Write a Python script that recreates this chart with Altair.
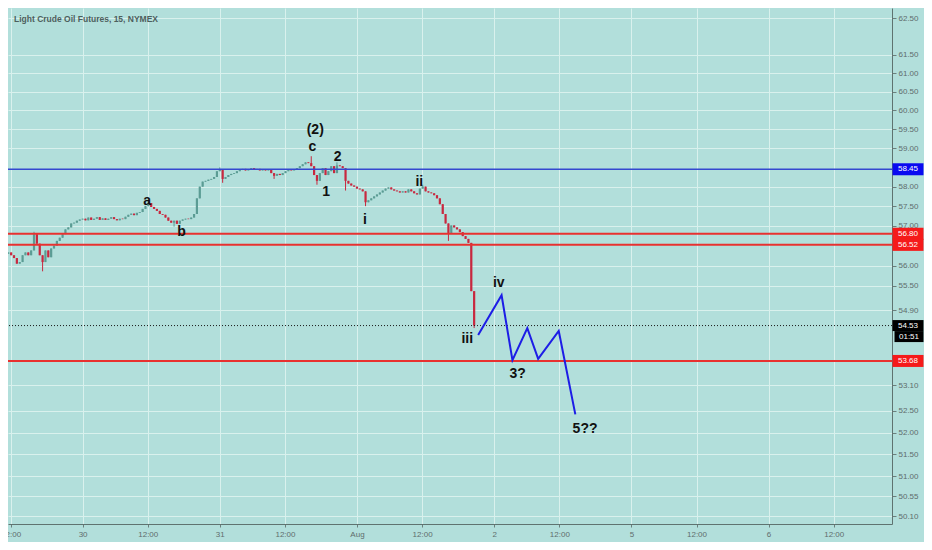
import altair as alt
import pandas as pd

W, H = 884, 516
FONT = "Liberation Sans"

title_text = "Light Crude Oil Futures, 15, NYMEX"

# 30-minute closes (first bar at t = -13 h, step 0.5 h)
bar_start = -13.0
bar_step = 0.5
open0 = 56.30
closes = [
    56.33, 56.26, 56.19, 56.05, 56.09, 56.26, 56.33, 56.26, 56.38, 56.79,
    56.55, 56.26, 56.09, 56.38, 56.21, 56.43, 56.50, 56.62, 56.70, 56.79,
    56.91, 56.96, 57.06, 57.08, 57.13, 57.16, 57.18, 57.14, 57.21, 57.15,
    57.18, 57.22, 57.15, 57.19, 57.15, 57.18, 57.22, 57.17, 57.14, 57.18,
    57.17, 57.23, 57.28, 57.31, 57.27, 57.33, 57.35, 57.43, 57.50, 57.58,
    57.48, 57.43, 57.38, 57.30, 57.28, 57.21, 57.13, 57.08, 57.13, 57.05,
    57.13, 57.16, 57.18, 57.17, 57.21, 57.30, 57.70, 58.00, 58.13, 58.15,
    58.18, 58.20, 58.25, 58.40, 58.45, 58.20, 58.25, 58.30, 58.33, 58.35,
    58.40, 58.43, 58.46, 58.42, 58.45, 58.48, 58.44, 58.46, 58.42, 58.45,
    58.42, 58.45, 58.35, 58.28, 58.33, 58.30, 58.35, 58.40, 58.43, 58.42,
    58.45, 58.48, 58.53, 58.58, 58.63, 58.61, 58.53, 58.30, 58.15, 58.35,
    58.48, 58.30, 58.40, 58.53, 58.35, 58.55, 58.53, 58.48, 58.15, 58.08,
    58.03, 58.00, 57.95, 57.93, 57.88, 57.60, 57.65, 57.70, 57.75, 57.80,
    57.85, 57.90, 57.95, 57.98, 57.93, 57.90, 57.88, 57.85, 57.88, 57.85,
    57.93, 57.88, 57.83, 57.80, 57.95, 58.00, 57.88, 57.85, 57.83, 57.78,
    57.70, 57.55, 57.30, 57.06, 56.82, 57.01, 56.96, 56.91, 56.84, 56.74,
    56.67, 56.57, 55.37, 54.53,
]
# notable wicks
hi_i = [9, 49, 74, 106, 115, 145]
hi_v = [56.85, 57.63, 58.50, 58.79, 58.63, 58.05]
lo_i = [12, 58, 75, 93, 108, 118, 125, 154, 163]
lo_v = [55.86, 56.98, 58.10, 58.20, 58.05, 57.90, 57.50, 56.62, 54.47]

# horizontal levels
level_price = [58.45, 56.80, 56.52, 53.68]
level_color = ["#3548cf", "#e8312f", "#e8312f", "#e8312f"]
badge_color = ["#0a0af0", "#f51a1a", "#f51a1a", "#f51a1a"]
level_width = [1.5, 2, 2, 2]
last_price = 54.53
countdown = "01:51"

# projected wave path (blue)
proj_t = [69.2, 73.3, 75.2, 77.8, 79.7, 83.3, 86.2]
proj_p = [54.30, 55.27, 53.70, 54.47, 53.73, 54.40, 52.42]

# wave labels
lab_text = ["(2)", "c", "2", "1", "a", "b", "i", "ii", "iii", "iv", "3?", "5??"]
lab_t = [40.7, 40.2, 44.6, 42.6, 11.3, 17.3, 49.4, 58.9, 67.3, 72.8, 76.1, 87.9]
lab_p = [59.47, 59.04, 58.78, 57.85, 57.63, 56.84, 57.16, 58.13, 54.21, 55.58, 53.38, 52.08]

# axes
y_ticks = [62.5, 61.5, 61.0, 60.5, 60.0, 59.5, 59.0, 58.0, 57.5, 57.0, 56.0, 55.5,
           54.9, 53.1, 52.5, 52.0, 51.5, 51.0, 50.55, 50.1]
x_ticks = [-12.6, 0, 11.4, 24, 35.4, 48, 59.4, 72, 83.4, 96, 107.4, 120, 131.4]
x_labels = ["12:00", "30", "12:00", "31", "12:00", "Aug", "12:00", "2", "12:00",
            "5", "12:00", "6", "12:00"]

# ---- tables
n = len(closes)
times = [bar_start + bar_step * i for i in range(n)]
opens = [open0] + closes[:-1]
highs = [max(o, c) for o, c in zip(opens, closes)]
lows = [min(o, c) for o, c in zip(opens, closes)]
for i, v in zip(hi_i, hi_v):
    highs[i] = v
for i, v in zip(lo_i, lo_v):
    lows[i] = v
candles = pd.DataFrame({
    "t": times, "open": opens, "close": closes, "high": highs, "low": lows,
    "col": ["#5b9c94" if c >= o else "#c8283f" for o, c in zip(opens, closes)],
})
levels = pd.DataFrame({"price": level_price, "color": level_color, "badge": badge_color,
                       "w": level_width, "lab": [f"{p:.2f}" for p in level_price]})
last_df = pd.DataFrame({"price": [last_price], "lab": [f"{last_price:.2f}"], "cd": [countdown]})
proj = pd.DataFrame({"t": proj_t, "price": proj_p, "k": list(range(len(proj_t)))})
labs = pd.DataFrame({"t": lab_t, "price": lab_p, "txt": lab_text})
title_df = pd.DataFrame({"title": [title_text]})

xs = alt.Scale(domain=[-13.05, 141.6], nice=False, zero=False)
ys = alt.Scale(type="log", domain=[49.93, 62.79], nice=False, zero=False)

label_expr = ("[" + ",".join(f"'{l}'" for l in x_labels) + "][indexof(["
              + ",".join(str(v) for v in x_ticks) + "], datum.value)]")

GRID = "#d9f1ed"
xaxis = alt.Axis(values=x_ticks, labelExpr=label_expr, title=None, grid=True,
                 gridColor=GRID, gridWidth=1, tickSize=3, tickColor="#6b7f7c",
                 domainColor="#5f7370", labelColor="#5f6d6c", labelFont=FONT,
                 labelFontSize=8, labelPadding=3, labelOverlap=False)
yaxis = alt.Axis(orient="right", values=y_ticks, format=".2f", title=None, grid=True,
                 gridColor=GRID, gridWidth=1, tickSize=4, tickColor="#6b7f7c",
                 domainColor="#5f7370", labelColor="#5f6d6c", labelFont=FONT,
                 labelFontSize=8, labelPadding=2, labelOverlap=False)


def X(f):
    return alt.X(f, type="quantitative", scale=xs, axis=xaxis)


def Y(f):
    return alt.Y(f, type="quantitative", scale=ys, axis=yaxis)


wicks = alt.Chart(candles).mark_rule(strokeWidth=1).encode(
    x=X("t"), y=Y("low"), y2="high", color=alt.Color("col:N", scale=None))
bodies = alt.Chart(candles).mark_rule(strokeWidth=2.2).encode(
    x=X("t"), y=Y("open"), y2="close", color=alt.Color("col:N", scale=None))

level_rules = alt.Chart(levels).mark_rule().encode(
    y=Y("price"), color=alt.Color("color:N", scale=None),
    strokeWidth=alt.StrokeWidth("w:Q", scale=None))
last_rule = alt.Chart(last_df).mark_rule(color="#1a1a1a", strokeWidth=1, strokeDash=[1, 2]).encode(
    y=Y("price"))

proj_line = alt.Chart(proj).mark_line(color="#1d1de6", strokeWidth=2).encode(
    x=X("t"), y=Y("price"), order="k:Q")

wave_text = alt.Chart(labs).mark_text(font=FONT, fontSize=14, fontWeight="bold",
                                      color="#111111", baseline="middle").encode(
    x=X("t"), y=Y("price"), text="txt:N")

title_mark = alt.Chart(title_df).mark_text(font=FONT, fontSize=8.5, fontWeight="bold",
                                           color="#4d5e5d", align="left", baseline="middle").encode(
    x=alt.value(6), y=alt.value(11), text="title:N")

bx = W + 16
level_badges = alt.Chart(levels).mark_tick(thickness=12, size=31, opacity=1).encode(
    x=alt.value(bx), y=Y("price"), color=alt.Color("badge:N", scale=None))
level_badge_text = alt.Chart(levels).mark_text(font=FONT, fontSize=8, color="white",
                                               baseline="middle").encode(
    x=alt.value(bx), y=Y("price"), text="lab:N")
last_badge = alt.Chart(last_df).mark_tick(thickness=11, size=31, color="#000000", opacity=1).encode(
    x=alt.value(bx), y=Y("price"))
cd_badge = alt.Chart(last_df).mark_tick(thickness=11, size=29, color="#000000", opacity=1,
                                        yOffset=11).encode(
    x=alt.value(bx + 1), y=Y("price"))
last_text = alt.Chart(last_df).mark_text(font=FONT, fontSize=8, color="white",
                                         baseline="middle").encode(
    x=alt.value(bx), y=Y("price"), text="lab:N")
cd_text = alt.Chart(last_df).mark_text(font=FONT, fontSize=8, color="white",
                                       baseline="middle", yOffset=11).encode(
    x=alt.value(bx + 1), y=Y("price"), text="cd:N")

chart = alt.layer(
    wicks, bodies, level_rules, last_rule, proj_line, wave_text, title_mark,
    level_badges, level_badge_text, last_badge, cd_badge, last_text, cd_text,
).properties(
    width=W, height=H,
    autosize=alt.AutoSizeParams(type="none"),
    padding={"left": 0, "top": 0, "right": 32, "bottom": 18},
    background="#b2dfdb",
).configure_view(stroke=None)

chart.save("out.html", embed_options={"renderer": "svg", "actions": False})
